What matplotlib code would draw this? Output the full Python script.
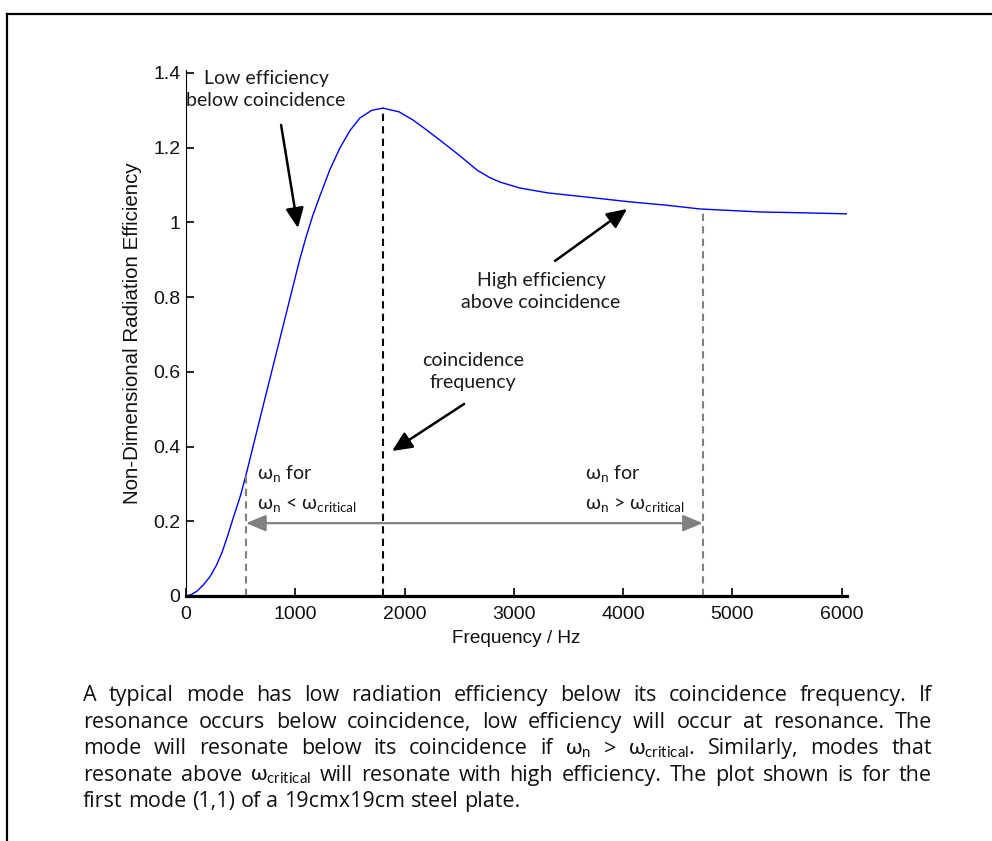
import matplotlib
matplotlib.use('Agg')
import matplotlib.pyplot as plt

plt.rcParams['mathtext.fontset'] = 'custom'
plt.rcParams['mathtext.rm'] = 'Lato'
plt.rcParams['mathtext.it'] = 'Lato:italic'
plt.rcParams['mathtext.bf'] = 'Lato:bold'
plt.rcParams['mathtext.fallback'] = 'stixsans'

# radiation efficiency of the (1,1) mode
freq = [0, 50, 100, 160, 220, 280, 330, 380, 430, 500, 558, 616, 700, 800, 900,
        1000, 1043, 1100, 1160, 1227, 1318, 1410, 1501, 1593, 1700, 1803, 1950,
        2078, 2200, 2325, 2500, 2664, 2780, 2874, 3057, 3313, 3600, 4064, 4400,
        4705, 5254, 5600, 6050]
eff = [0, 0.004, 0.013, 0.03, 0.052, 0.083, 0.117, 0.16, 0.207, 0.27, 0.334,
       0.403, 0.502, 0.619, 0.736, 0.853, 0.903, 0.962, 1.018, 1.072, 1.142,
       1.2, 1.246, 1.28, 1.3, 1.306, 1.296, 1.274, 1.248, 1.22, 1.18, 1.14,
       1.12, 1.108, 1.092, 1.079, 1.07, 1.055, 1.046, 1.036, 1.028, 1.026, 1.023]

coincidence_freq = 1800
coincidence_eff = 1.306
low_mode_freq = 550
low_mode_eff = 0.33
high_mode_freq = 4730
high_mode_eff = 1.036
range_arrow_eff = 0.195

xticks = [0, 1000, 2000, 3000, 4000, 5000, 6000]
yticks = [0, 0.2, 0.4, 0.6, 0.8, 1.0, 1.2, 1.4]
ytick_labels = ['0', '0.2', '0.4', '0.6', '0.8', '1', '1.2', '1.4']

caption_lines = [
    "A typical mode has low radiation efficiency below its coincidence frequency. If",
    "resonance occurs below coincidence, low efficiency will occur at resonance. The",
    r"mode will resonate below its coincidence if $\mathrm{\omega_n}$ > $\mathrm{\omega_{critical}}$. Similarly, modes that",
    r"resonate above $\mathrm{\omega_{critical}}$ will resonate with high efficiency. The plot shown is for the",
    "first mode (1,1) of a 19cmx19cm steel plate.",
]

W, H = 992, 841
fig = plt.figure(figsize=(W / 100, H / 100), dpi=100)
ax = fig.add_axes([186 / W, 1 - 596 / H, 661 / W, 526 / H])

ax.plot(freq, eff, color='#0000ff', lw=1)

ax.vlines(coincidence_freq, 0, coincidence_eff, color='black', lw=1.5,
          linestyle=(0, (3.5, 2.5)))
ax.vlines([low_mode_freq, high_mode_freq], 0, [low_mode_eff, high_mode_eff],
          color='#808080', lw=1.5, linestyle=(0, (3.5, 2.5)))

ax.annotate('', xy=(low_mode_freq, range_arrow_eff), xytext=(high_mode_freq, range_arrow_eff),
            arrowprops=dict(arrowstyle='<|-|>,head_length=0.6,head_width=0.25',
                            color='#808080', lw=1.6, mutation_scale=20,
                            shrinkA=0, shrinkB=0))

arrow_kw = dict(arrowstyle='-|>,head_length=0.55,head_width=0.25', color='black',
                lw=1.8, mutation_scale=22, shrinkA=0, shrinkB=0)
txt_kw = dict(fontsize=14, family='Lato', color='#1a1a1a', linespacing=1.35)

ax.text(732, 1.355, 'Low efficiency\nbelow coincidence', ha='center', va='center', **txt_kw)
ax.annotate('', xy=(1025, 0.985), xytext=(870, 1.261), arrowprops=arrow_kw)

ax.text(3249, 0.814, 'High efficiency\nabove coincidence', ha='center', va='center', **txt_kw)
ax.annotate('', xy=(4037, 1.036), xytext=(3378, 0.897), arrowprops=arrow_kw)

ax.text(2627, 0.601, 'coincidence\nfrequency', ha='center', va='center', **txt_kw)
ax.annotate('', xy=(1886, 0.388), xytext=(2545, 0.514), arrowprops=arrow_kw)

sign = {650: '<', 3652: '>'}
for x0 in (650, 3652):
    ax.text(x0, 0.329, r'$\mathrm{\omega_n}$ for', ha='left', va='center', **txt_kw)
    ax.text(x0, 0.244, r'$\mathrm{\omega_n}$ ' + sign[x0] + r' $\mathrm{\omega_{critical}}$',
            ha='left', va='center', **txt_kw)

ax.set_xlim(0, 6050)
ax.set_ylim(0, 1.408)
ax.set_xticks(xticks)
ax.set_yticks(yticks)
ax.set_yticklabels(ytick_labels)
for s in ('top', 'right'):
    ax.spines[s].set_visible(False)
ax.spines['bottom'].set_linewidth(2.3)
ax.spines['left'].set_linewidth(0.8)
ax.tick_params(direction='in', length=5.8, width=1.2, labelsize=14,
               labelcolor='#111111', labelfontfamily='Liberation Sans')
ax.tick_params(axis='x', pad=7)
ax.tick_params(axis='y', pad=4)
ax.set_xlabel('Frequency / Hz', fontsize=13.7, family='Liberation Sans', color='#111111',
              labelpad=5)
ax.set_ylabel('Non-Dimensional Radiation Efficiency', fontsize=14.8, family='Liberation Sans',
              color='#111111', labelpad=8)

# page frame (top and left edge only)
fig.add_artist(plt.Line2D([6.5 / W, 1], [1 - 13.5 / H] * 2, color='black', lw=1.6,
                          transform=fig.transFigure))
fig.add_artist(plt.Line2D([6.5 / W] * 2, [0, 1 - 13.5 / H], color='black', lw=1.6,
                          transform=fig.transFigure))

# justified caption
renderer = fig.canvas.get_renderer()
cap_kw = dict(fontsize=15.5, family='Open Sans', color='#111111')


def width_of(s):
    t = fig.text(0, 0, s, **cap_kw)
    w = t.get_window_extent(renderer).width
    t.remove()
    return w


space_w = width_of('a a') - width_of('aa')
left, right = 83, 932
for i, line in enumerate(caption_lines):
    words = line.split(' ')
    widths = [width_of(w) for w in words]
    base = 701 + i * 26.6
    if i < len(caption_lines) - 1:
        gap = (right - left - sum(widths)) / (len(words) - 1)
    else:
        gap = space_w
    x = left
    for w, wd in zip(words, widths):
        fig.text(x / W, 1 - base / H, w, ha='left', va='baseline', **cap_kw)
        x += wd + gap

fig.savefig('out.png', dpi=100)
